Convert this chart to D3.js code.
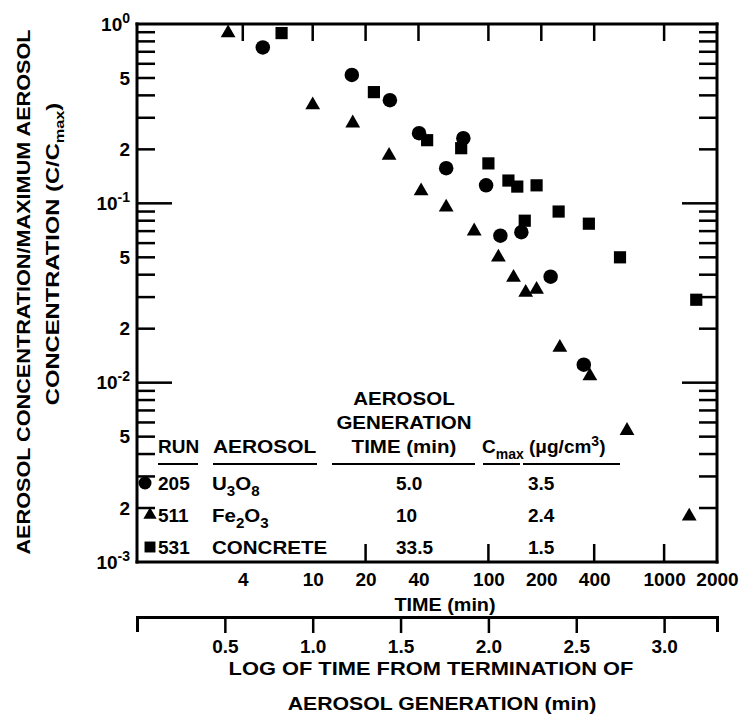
<!DOCTYPE html>
<html>
<head>
<meta charset="utf-8">
<script src="https://cdn.jsdelivr.net/npm/d3@7"></script>
<style>
body { margin: 0; background: #fff; }
svg text { font-family: "Liberation Sans", Arial, sans-serif; font-weight: bold; fill: #000; }
</style>
</head>
<body>
<svg id="chart" width="743" height="715"></svg>
<script>
// run 205, U3O8 (circles)
var u3o8Time = [5.2, 16.7, 27.5, 40.3, 57.5, 72, 97, 117, 154, 226, 349];
var u3o8Conc = [0.74, 0.52, 0.376, 0.246, 0.157, 0.231, 0.126, 0.066, 0.069, 0.039, 0.0126];

// run 511, Fe2O3 (triangles)
var fe2o3Time = [3.3, 10, 16.9, 27.2, 41.4, 57.5, 83, 114, 139, 163, 188, 255, 378, 615, 1390];
var fe2o3Conc = [0.89, 0.353, 0.28, 0.185, 0.117, 0.095, 0.070, 0.050, 0.0386, 0.0318, 0.0331, 0.0157, 0.0109, 0.0054, 0.0018];

// run 531, concrete (squares)
var concreteTime = [6.65, 22.3, 44.8, 70, 100, 130, 146, 161, 188, 251, 373, 561, 1524];
var concreteConc = [0.89, 0.417, 0.225, 0.203, 0.167, 0.134, 0.124, 0.080, 0.126, 0.090, 0.077, 0.050, 0.029];

var timeLabels = [4, 10, 20, 40, 100, 200, 400, 1000, 2000];
var timeTicksTop = [4, 10, 20, 40, 100, 200, 400, 1000];
var timeTicksBottom = [20, 100, 400, 1000];
var logTimeTicks = [0.5, 1.0, 1.5, 2.0, 2.5, 3.0];
var decades = [1, 0.1, 0.01, 0.001];
var mantissas = [2, 3, 4, 5, 6, 7, 8, 9];
var labelledMantissas = [2, 5];

var runs = ["205", "511", "531"];
var aerosols = [["U", "3", "O", "8"], ["Fe", "2", "O", "3"], ["CONCRETE"]];
var genTimes = ["5.0", "10", "33.5"];
var cmaxValues = ["3.5", "2.4", "1.5"];
var markerTypes = ["circle", "triangle", "square"];

var svg = d3.select("#chart");

var xScale = d3.scaleLog().domain([1, 2000]).range([137, 717]);
var yScale = d3.scaleLog().domain([1, 0.001]).range([24, 562]);
var xLog = d3.scaleLinear().domain([0, Math.log10(2000)]).range([137, 717]);

var minorTicks = [];
decades.slice(1).forEach(function(d) {
	mantissas.forEach(function(m) { minorTicks.push(d * m); });
});

// frame sides and tick marks as filled bars
var marks = svg.append("g").attr("class", "frame").attr("fill", "#000");
var X0 = xScale(1), X1 = xScale(2000), Y0 = yScale(1), Y1 = yScale(0.001);
[[X0 - 1.5, Y0 - 1.5, X1 - X0 + 3, 3], [X0 - 1.5, Y1 - 1.5, X1 - X0 + 3, 3],
 [X0 - 1.5, Y0 - 1.5, 3, Y1 - Y0 + 3], [X1 - 1.5, Y0 - 1.5, 3, Y1 - Y0 + 3]].forEach(function(b) {
	marks.append("rect").attr("x", b[0]).attr("y", b[1]).attr("width", b[2]).attr("height", b[3]);
});

function tickBars(values, pos, fixed, len, vertical) {
	marks.append("g").selectAll("rect").data(values).enter().append("rect")
		.attr("x", function(d) { return vertical ? pos(d) - 1.25 : Math.min(fixed, fixed + len); })
		.attr("y", function(d) { return vertical ? Math.min(fixed, fixed + len) : pos(d) - 1.25; })
		.attr("width", vertical ? 2.5 : Math.abs(len))
		.attr("height", vertical ? Math.abs(len) : 2.5);
}
tickBars(minorTicks, yScale, X0, 18, false);
tickBars(decades.slice(1, 3), yScale, X0, 35, false);
tickBars(minorTicks, yScale, X1, -18, false);
tickBars(decades.slice(1, 3), yScale, X1, -35, false);
tickBars(timeTicksTop, xScale, Y0, 17, true);
tickBars(timeTicksBottom, xScale, Y1, -18, true);

function styleLabels(g) {
	g.select(".domain").remove();
	g.selectAll(".tick line").remove();
	g.selectAll(".tick text")
		.attr("font-size", 19)
		.style("font-family", "'Liberation Sans', Arial, sans-serif")
		.style("font-weight", "bold");
}

// left labels at 2 and 5
svg.append("g").attr("transform", "translate(137,0)")
	.call(d3.axisLeft(yScale).tickValues(minorTicks).tickSize(0).tickPadding(7)
		.tickFormat(function(d) {
			var m = Math.round(d / Math.pow(10, Math.floor(Math.log10(d) + 1e-9)));
			return labelledMantissas.indexOf(m) >= 0 ? m : "";
		}))
	.call(styleLabels);

// decade labels 10^n
var decadeAxis = svg.append("g").attr("transform", "translate(137,0)")
	.call(d3.axisLeft(yScale).tickValues(decades).tickSize(0).tickPadding(7).tickFormat(""))
	.call(styleLabels);
decadeAxis.selectAll(".tick text").each(function(d) {
	var t = d3.select(this);
	var e = Math.round(Math.log10(d));
	t.append("tspan").text("10");
	t.append("tspan").attr("dy", -8).attr("font-size", 14)
		.text(e === 0 ? "0" : "-" + Math.abs(e));
});

// time labels
svg.append("g").attr("transform", "translate(0,562)")
	.call(d3.axisBottom(xScale).tickValues(timeLabels).tickSize(0).tickPadding(11)
		.tickFormat(function(d) { return d; }))
	.call(styleLabels);

svg.append("text").attr("transform", "translate(445,611) scale(1.1,1)").attr("text-anchor", "middle")
	.attr("font-size", 18).text("TIME (min)");

// log-of-time axis
var logAxis = svg.append("g").attr("transform", "translate(0,617)")
	.call(d3.axisBottom(xLog).tickValues(logTimeTicks).tickSize(16).tickSizeOuter(15).tickPadding(7)
		.tickFormat(d3.format(".1f")));
logAxis.select(".domain").attr("stroke", "#000").attr("stroke-width", 3).attr("fill", "none");
logAxis.selectAll(".tick line").attr("stroke", "#000").attr("stroke-width", 2.5);
logAxis.selectAll(".tick text").attr("font-size", 19)
	.style("font-family", "'Liberation Sans', Arial, sans-serif").style("font-weight", "bold");

svg.append("text").attr("transform", "translate(431,675) scale(1.15,1)").attr("text-anchor", "middle")
	.attr("font-size", 19).text("LOG OF TIME FROM TERMINATION OF");
svg.append("text").attr("transform", "translate(442,710) scale(1.12,1)").attr("text-anchor", "middle")
	.attr("font-size", 19).text("AEROSOL GENERATION (min)");

// y title
svg.append("text").attr("transform", "translate(30,292) rotate(-90) scale(1.14,1)").attr("text-anchor", "middle")
	.attr("font-size", 19).text("AEROSOL CONCENTRATION/MAXIMUM AEROSOL");
var yt2 = svg.append("text").attr("transform", "translate(59,254) rotate(-90) scale(1.25,1)")
	.attr("text-anchor", "middle").attr("font-size", 19);
yt2.append("tspan").text("CONCENTRATION (C/C");
yt2.append("tspan").attr("dy", 5).attr("font-size", 13).text("max");
yt2.append("tspan").attr("dy", -5).text(")");

// markers
function drawMarker(sel, type, size) {
	if (type === "circle") {
		sel.append("circle").attr("r", size / 2);
	} else if (type === "triangle") {
		sel.append("path").attr("d", d3.symbol().type(d3.symbolTriangle).size(size * size * 0.45)());
	} else {
		sel.append("rect").attr("x", -size * 0.42).attr("y", -size * 0.42)
			.attr("width", size * 0.84).attr("height", size * 0.84);
	}
}

var series = [
	{ type: "square", t: concreteTime, c: concreteConc },
	{ type: "triangle", t: fe2o3Time, c: fe2o3Conc },
	{ type: "circle", t: u3o8Time, c: u3o8Conc }
];
series.forEach(function(s) {
	var pts = s.t.map(function(t, i) { return [t, s.c[i]]; });
	svg.append("g").attr("class", "series-" + s.type)
		.selectAll("g").data(pts).enter().append("g")
		.attr("transform", function(d) { return "translate(" + xScale(d[0]) + "," + yScale(d[1]) + ")"; })
		.each(function() { drawMarker(d3.select(this), s.type, 14.5); });
});

// legend table
var leg = svg.append("g").attr("font-size", 19);
leg.append("text").attr("x", 158).attr("y", 453).text("RUN");
leg.append("text").attr("transform", "translate(213,453) scale(1.1,1)").text("AEROSOL");
["AEROSOL", "GENERATION", "TIME (min)"].forEach(function(s, i) {
	leg.append("text").attr("transform", "translate(404," + (405 + i * 24) + ") scale(1.08,1)")
		.attr("text-anchor", "middle").text(s);
});
var ch = leg.append("text").attr("x", 482).attr("y", 453);
ch.append("tspan").text("C");
ch.append("tspan").attr("dy", 6).attr("font-size", 14).text("max");
ch.append("tspan").attr("dy", -6).text(" (\u03bcg/cm");
ch.append("tspan").attr("dy", -7).attr("font-size", 14).text("3");
ch.append("tspan").attr("dy", 7).text(")");

[[158, 198], [213, 317], [332, 475], [483, 520], [523, 620]].forEach(function(u) {
	leg.append("line").attr("x1", u[0]).attr("x2", u[1]).attr("y1", 464).attr("y2", 464)
		.attr("stroke", "#000").attr("stroke-width", 2);
});

runs.forEach(function(r, i) {
	var yy = 483 + i * 32;
	var m = leg.append("g").attr("transform", "translate(" + (i === 0 ? 145 : 150) + "," + yy + ")");
	drawMarker(m, markerTypes[i], 13);
	leg.append("text").attr("x", 158).attr("y", yy + 7).text(r);
	var a = leg.append("text").attr("transform", "translate(212," + (yy + 7) + ") scale(1.08,1)");
	aerosols[i].forEach(function(part, j) {
		var sub = j % 2 === 1;
		a.append("tspan").attr("dy", j === 0 ? 0 : (sub ? 6 : -6))
			.attr("font-size", sub ? 14 : 19).text(part);
	});
	leg.append("text").attr("x", 396).attr("y", yy + 7).text(genTimes[i]);
	leg.append("text").attr("x", 528).attr("y", yy + 7).text(cmaxValues[i]);
});
</script>
</body>
</html>
